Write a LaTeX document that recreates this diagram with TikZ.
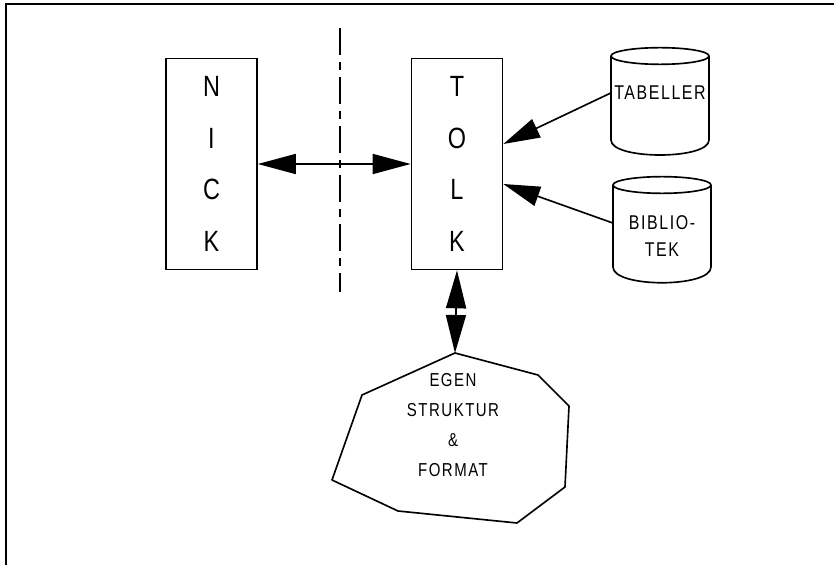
\documentclass[tikz,border=0pt]{standalone}
\usepackage{fontspec}
\setmainfont[FakeStretch=0.8, LetterSpace=8]{Liberation Sans}
\usetikzlibrary{arrows.meta}
\tikzset{box/.style = {shape = rectangle, draw, line width = 1.4pt, minimum width = 2.73cm, minimum height = 6.33cm, align = center, font = \fontsize{25}{44}\selectfont}}
\tikzset{dbtext/.style = {minimum width = 2.94cm, inner sep = 0pt, align = center, font = \fontsize{17}{23}\selectfont}}
\tikzset{blobtext/.style = {align = center, font = \fontsize{16}{25.5}\selectfont}}
\tikzset{db/.style = {draw, line width = 1.4pt, line join = round}}
\tikzset{edge/.style = {<->, > = {Triangle[length = 1.14cm, width = 0.6cm]}, line width = 1.4pt}}
\tikzset{feed/.style = {->, > = {Triangle[length = 1.1cm, width = 0.6cm]}, line width = 1.4pt}}
\tikzset{cut/.style = {line width = 1.2pt, dash pattern = on 0.81cm off 0.21cm on 0.24cm off 0.21cm}}

\begin{document}
\begin{tikzpicture}[x = 0.03cm, y = -0.03cm]
	\useasboundingbox (0, 0) rectangle (834, 565);
	\draw[line width = 2pt] (6, 565) -- (6, 4) -- (834, 4);

	\node[box] (nick) at (211.5, 164) {N\\I\\C\\K};
	\node[box] (tolk) at (457, 164) {T\\O\\L\\K};

	\draw[cut] (340, 28) -- (340, 292);

	% tabeller
	\draw[db] (611, 56) -- (611, 140) .. controls (611, 160) and (709, 160) .. (709, 140) -- (709, 56);
	\draw[db] (660, 56) ellipse [x radius = 1.47cm, y radius = 0.25cm];
	\node[dbtext] (tab) at (660, 93) {TABELLER};

	% bibliotek
	\draw[db] (613, 185) -- (613, 267) .. controls (613, 288) and (711, 288) .. (711, 267) -- (711, 185);
	\draw[db] (662, 185) ellipse [x radius = 1.47cm, y radius = 0.25cm];
	\node[dbtext] (bib) at (662, 236) {BIBLIO-\\TEK};

	% egen struktur
	\coordinate (blobtop) at (455, 353);
	\draw[db] (blobtop) -- (538, 375) -- (569, 406) -- (565, 487) -- (517, 523) -- (398, 511) -- (332, 480) -- (362, 395) -- cycle;
	\node[blobtext] (fmt) at (453, 425) {EGEN\\STRUKTUR\\\&\\FORMAT};

	\draw[edge] (nick) -- (tolk);
	\draw[edge] (tolk.south) -- (blobtop);
	\draw[feed] (tab.west) -- ([yshift = 0.6cm]tolk.east);
	\draw[feed] ([yshift = 0.39cm]bib.west) -- ([yshift = -0.6cm]tolk.east);
\end{tikzpicture}
\end{document}
